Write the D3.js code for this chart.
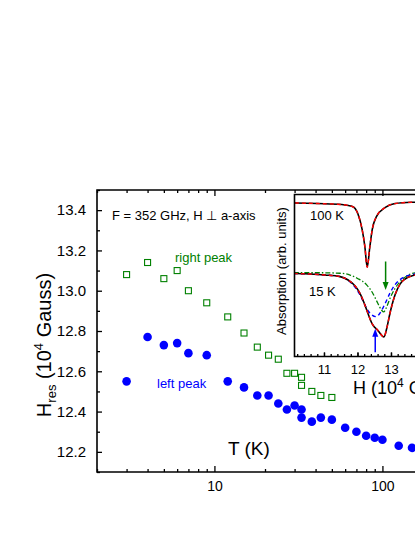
<!DOCTYPE html>
<html><head><meta charset="utf-8">
<script src="https://cdn.jsdelivr.net/npm/d3@7"></script>
<style>
body{margin:0;background:#fff}
svg{display:block}
text{font-family:"Liberation Sans",Arial,sans-serif;fill:#000}
</style>
</head><body><svg id="c" width="415" height="537"></svg>
<script>
// ---------- main chart data ----------
const leftTemps = [3,4,5,6,7,9,12,15,18,21,24,27,30,33,33,38,43,50,60,70,80,90,100,125,150];
const leftPeak  = [12.55,12.77,12.73,12.74,12.69,12.68,12.55,12.52,12.48,12.48,12.44,12.41,12.43,12.41,12.37,12.35,12.37,12.36,12.32,12.30,12.28,12.27,12.26,12.23,12.22];
const rightTemps = [3,4,5,6,7,9,12,15,18,21,24,27,30,33,33,38,43,50];
const rightPeak  = [13.08,13.14,13.06,13.10,13.00,12.94,12.87,12.79,12.72,12.68,12.66,12.59,12.59,12.57,12.53,12.50,12.48,12.47];
const xMajorTicks = [10,100];
const xMinorTicks = [2,3,4,5,6,7,8,9,20,30,40,50,60,70,80,90,200,300];
const yMajorTicks = [12.2,12.4,12.6,12.8,13.0,13.2,13.4];
const yMinorTicks = [12.1,12.3,12.5,12.7,12.9,13.1,13.3,13.5];

// ---------- inset data (H in 10^4 G, absorption in arb. units) ----------
const h100  = [10.13,10.82,11.53,11.73,11.83,11.93,12.02,12.14,12.22,12.29,12.37,12.44,12.57,12.82,13.12,13.62,13.90];
const a100  = [9.48,9.44,9.38,9.32,9.27,9.13,8.76,7.83,6.79,5.51,6.79,7.83,8.65,9.19,9.44,9.52,9.53];
const h15   = [10.10,10.58,11.03,11.48,11.72,11.93,12.07,12.19,12.31,12.43,12.61,12.79,12.88,12.97,13.12,13.27,13.42,13.57,13.72,13.90];
const a15   = [5.12,5.09,5.03,4.93,4.72,4.35,3.91,3.35,2.67,2.05,1.61,1.21,1.80,2.67,3.79,4.47,4.78,4.94,5.03,5.08];
const h15L  = [10.10,11.03,11.48,11.72,11.93,12.07,12.19,12.31,12.43,12.55,12.67,12.82,12.97,13.12,13.27,13.42,13.57,13.72,13.90];
const a15L  = [5.12,5.03,4.93,4.70,4.27,3.83,3.31,2.84,2.56,2.46,2.67,3.25,3.91,4.43,4.74,4.93,5.03,5.09,5.12];
const h15R  = [10.10,10.88,11.48,11.78,11.99,12.28,12.46,12.61,12.72,12.78,12.87,12.97,13.12,13.32,13.52,13.72,13.90];
const a15R  = [5.17,5.17,5.14,5.03,4.83,4.41,3.89,3.27,2.86,2.75,3.06,3.58,4.20,4.72,5.03,5.16,5.18];
const insetTicks = [11,12,13];
const insetMajorMarks = [11,12,13,14];
const arrowBlue  = {h:12.53, from:0.27, to:1.72};
const arrowGreen = {h:12.84, from:5.86, to:4.10};

const svg = d3.select("#c");
const BLUE="#0000ff", GREEN="#008000", RED="#ff0000";

// scales
const L=97, T=190, B=472;
const x = d3.scaleLog().domain([2,300]).range([L, L+168*Math.log10(150)]);
const y = d3.scaleLinear().domain([12.1,13.5]).range([B,T]);
const R = x(300);

// data marks
svg.append("g").selectAll("circle").data(leftTemps.map((t,i)=>[t,leftPeak[i]]))
  .join("circle").attr("cx",d=>x(d[0])).attr("cy",d=>y(d[1])).attr("r",4.3).attr("fill",BLUE);
svg.append("g").selectAll("rect").data(rightTemps.map((t,i)=>[t,rightPeak[i]]))
  .join("rect").attr("x",d=>x(d[0])-3).attr("y",d=>y(d[1])-3).attr("width",6).attr("height",6)
  .attr("fill","none").attr("stroke",GREEN).attr("stroke-width",1.1);

// axes
function styleAxis(g){ g.select(".domain").remove(); g.selectAll("line").attr("stroke","#000").attr("stroke-width",1.3); g.selectAll("text").attr("fill","#000"); }
svg.append("g").attr("transform",`translate(0,${B})`)
  .call(d3.axisBottom(x).tickValues(xMajorTicks).tickFormat(d3.format("d")).tickSize(-6).tickPadding(9))
  .call(styleAxis).selectAll("text").style("font-size","14px");
svg.append("g").attr("transform",`translate(0,${B})`)
  .call(d3.axisBottom(x).tickValues(xMinorTicks).tickFormat("").tickSize(-3)).call(styleAxis);
svg.append("g").attr("transform",`translate(${L},0)`)
  .call(d3.axisLeft(y).tickValues(yMajorTicks).tickFormat(d3.format(".1f")).tickSize(-5).tickPadding(11))
  .call(styleAxis).selectAll("text").style("font-size","15px");
svg.append("g").attr("transform",`translate(${L},0)`)
  .call(d3.axisLeft(y).tickValues(yMinorTicks).tickFormat("").tickSize(-3)).call(styleAxis);

// main frame
svg.append("path").attr("d",`M${R},${T}H${L}V${B}H${R}`).attr("fill","none").attr("stroke","#000").attr("stroke-width",1.6);

// ---------- inset ----------
const iL=294.5, iT=194.5, iB=356.5, iR=445;
const ix = d3.scaleLinear().domain([10.12,14.5]).range([iL, iL+33.5*(14.5-10.12)]);
const iy = d3.scaleLinear().domain([0,10]).range([iB,iT]);
svg.append("rect").attr("x",iL).attr("y",iT).attr("width",iR-iL).attr("height",iB-iT).attr("fill","#fff");
svg.append("clipPath").attr("id","ic").append("rect").attr("x",iL).attr("y",iT).attr("width",iR-iL).attr("height",iB-iT);
const ig = svg.append("g").attr("clip-path","url(#ic)");
const line = d3.line().x(d=>ix(d[0])).y(d=>iy(d[1])).curve(d3.curveMonotoneX);
const zip=(a,b)=>a.map((v,i)=>[v,b[i]]);
ig.append("path").attr("d",line(zip(h100,a100))).attr("fill","none").attr("stroke","#000").attr("stroke-width",1.6);
ig.append("path").attr("d",line(zip(h100,a100))).attr("fill","none").attr("stroke",RED).attr("stroke-width",1.4).attr("stroke-dasharray","4,3");
ig.append("path").attr("d",line(zip(h15R,a15R))).attr("fill","none").attr("stroke",GREEN).attr("stroke-width",1.3).attr("stroke-dasharray","5,2,1.5,2");
ig.append("path").attr("d",line(zip(h15L,a15L))).attr("fill","none").attr("stroke",BLUE).attr("stroke-width",1.4).attr("stroke-dasharray","4,3");
ig.append("path").attr("d",line(zip(h15,a15))).attr("fill","none").attr("stroke","#000").attr("stroke-width",1.6);
ig.append("path").attr("d",line(zip(h15,a15))).attr("fill","none").attr("stroke",RED).attr("stroke-width",1.4).attr("stroke-dasharray","4,3");

// arrows
function arrow(a,col){
  const xa=ix(a.h), y0=iy(a.from), y1=iy(a.to), dir=Math.sign(y1-y0);
  ig.append("line").attr("x1",xa).attr("x2",xa).attr("y1",y0).attr("y2",y1-dir*5).attr("stroke",col).attr("stroke-width",1.5);
  ig.append("path").attr("d",`M${xa},${y1}L${xa-3},${y1-dir*8}L${xa+3},${y1-dir*8}Z`).attr("fill",col);
}
arrow(arrowBlue,BLUE); arrow(arrowGreen,GREEN);

// inset axes
svg.append("g").attr("transform",`translate(0,${iB})`)
  .call(d3.axisBottom(ix).tickValues(insetTicks).tickFormat(d3.format("d")).tickSize(-4).tickPadding(8))
  .call(styleAxis).selectAll("text").style("font-size","13px");
svg.append("g").attr("transform",`translate(0,${iB})`)
  .call(d3.axisBottom(ix).tickValues(insetMajorMarks).tickFormat("").tickSize(-4)).call(styleAxis);
svg.append("g").attr("transform",`translate(0,${iB})`)
  .call(d3.axisBottom(ix).tickValues(d3.range(10.2,14.5,0.2).filter(v=>Math.abs(v-Math.round(v))>0.05)).tickFormat("").tickSize(-2.5)).call(styleAxis);
svg.append("path").attr("d",`M${iR},${iT}H${iL}V${iB}H${iR}`).attr("fill","none").attr("stroke","#000").attr("stroke-width",1.6);

// top axis ticks of main chart (drawn last, visible above inset)
svg.append("g").attr("transform",`translate(0,${T})`)
  .call(d3.axisTop(x).tickValues(xMajorTicks).tickFormat("").tickSize(-6)).call(styleAxis);
svg.append("g").attr("transform",`translate(0,${T})`)
  .call(d3.axisTop(x).tickValues(xMinorTicks).tickFormat("").tickSize(-3)).call(styleAxis);

// ---------- texts ----------
svg.append("text").attr("x",112).attr("y",219.5).style("font-size","13px").text("F = 352 GHz, H \u22a5 a-axis");
svg.append("text").attr("x",175).attr("y",261.5).style("font-size","13px").style("fill",GREEN).text("right peak");
svg.append("text").attr("x",157).attr("y",387.5).style("font-size","13px").style("fill",BLUE).text("left peak");
svg.append("text").attr("x",228).attr("y",454.5).style("font-size","19px").text("T (K)");
const yl = svg.append("text").attr("transform","translate(51,345) rotate(-90)").attr("text-anchor","middle").style("font-size","20px");
yl.append("tspan").text("H");
yl.append("tspan").attr("dy",5).style("font-size","13px").text("res");
yl.append("tspan").attr("dy",-5).text(" (10");
yl.append("tspan").attr("dy",-8).style("font-size","13px").text("4");
yl.append("tspan").attr("dy",8).text(" Gauss)");
svg.append("text").attr("x",310).attr("y",220).style("font-size","13px").text("100 K");
svg.append("text").attr("x",309).attr("y",296).style("font-size","13px").text("15 K");
svg.append("text").attr("transform","translate(286,271) rotate(-90)").attr("text-anchor","middle").style("font-size","13px").text("Absorption (arb. units)");
const il = svg.append("text").attr("x",353).attr("y",393.5).style("font-size","18px");
il.append("tspan").text("H (10");
il.append("tspan").attr("dy",-7).style("font-size","12px").text("4");
il.append("tspan").attr("dy",7).text(" Gauss)");
</script></body></html>
